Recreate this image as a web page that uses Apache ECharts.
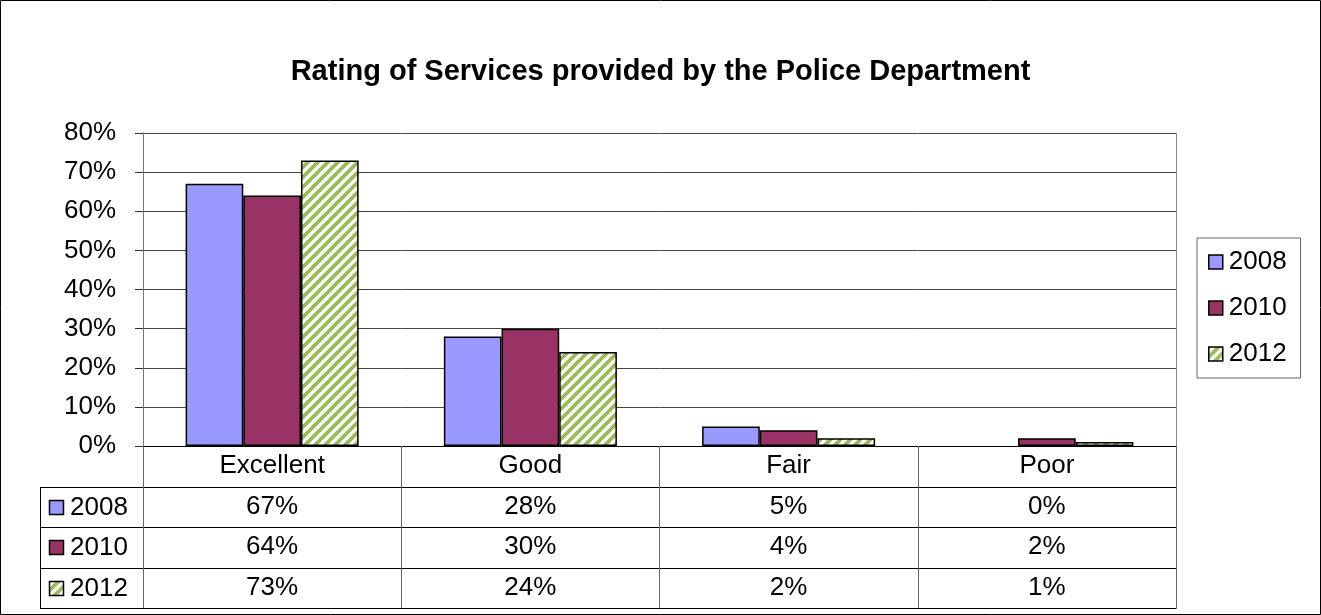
<!DOCTYPE html>
<html>
<head>
<meta charset="utf-8">
<style>
  html, body { margin: 0; padding: 0; background: #fff; }
  #chart { width: 1321px; height: 615px; }
</style>
<script src="https://cdn.jsdelivr.net/npm/echarts@6/dist/echarts.min.js"></script>
</head>
<body>
<div id="chart"></div>
<script>
// Survey data: share of respondents per rating, by survey year
const categories = ['Excellent', 'Good', 'Fair', 'Poor'];
const years = ['2008', '2010', '2012'];
const values2008 = [67, 28, 5, 0];
const values2010 = [64, 30, 4, 2];
const values2012 = [73, 24, 2, 1];
const yTickStep = 10;
const yMax = 80;

const seriesValues = [values2008, values2010, values2012];

// Layout of the plot area and the data table beneath it
const G = { left: 143, right: 1176, top: 133, bottom: 446 };
const ROW_H = 40.5;
const TABLE_LEFT = 40;
const FONT = 'Liberation Sans, Arial, sans-serif';
const TXT = 26;

// Diagonal green stripe fill for 2012
function stripePattern() {
  const s = 10;
  const c = document.createElement('canvas');
  c.width = s; c.height = s;
  const ctx = c.getContext('2d');
  ctx.fillStyle = '#ffffff';
  ctx.fillRect(0, 0, s, s);
  ctx.strokeStyle = '#9bbb59';
  ctx.lineWidth = 3.8;
  ctx.beginPath();
  for (let k = -1; k <= 1; k++) {
    ctx.moveTo(k * s - 1, s + 1);
    ctx.lineTo(k * s + s + 1, -1);
  }
  ctx.stroke();
  return { image: c, repeat: 'repeat' };
}

const fills = ['#9999ff', '#993366', stripePattern()];

const chart = echarts.init(document.getElementById('chart'), null, { renderer: 'canvas' });

// Table text under each category: header + one value per year
function tableLabel(value, idx) {
  const lines = ['{h|' + value + '}'];
  seriesValues.forEach(arr => lines.push('{v|' + arr[idx] + '%}'));
  return lines.join('\n');
}

// Zero-height bars get no outline
const series = years.map((y, i) => ({
  name: y,
  type: 'bar',
  data: seriesValues[i].map(v => v === 0
    ? { value: v, itemStyle: { borderWidth: 0, opacity: 0 } }
    : v),
  barGap: '0%',
  barCategoryGap: '33%',
  itemStyle: { color: fills[i], borderColor: '#000', borderWidth: 1.5 },
  emphasis: { disabled: true },
  animation: false
}));

// Table grid lines and row keys
const graphics = [];
function hline(x1, x2, y, color) {
  graphics.push({ type: 'line', silent: true, shape: { x1, y1: y, x2, y2: y },
    style: { stroke: color || '#000', lineWidth: 1 } });
}
function vline(x, y1, y2, color) {
  graphics.push({ type: 'line', silent: true, shape: { x1: x, y1, x2: x, y2 },
    style: { stroke: color || '#000', lineWidth: 1 } });
}
const rowTops = [G.bottom + ROW_H, G.bottom + 2 * ROW_H, G.bottom + 3 * ROW_H, G.bottom + 4 * ROW_H];
rowTops.forEach(y => hline(TABLE_LEFT, G.right, Math.round(y) + 0.5));
vline(TABLE_LEFT + 0.5, Math.round(rowTops[0]), Math.round(rowTops[3]) + 1);
vline(G.right + 0.5, G.top, Math.round(rowTops[3]) + 1, '#888');
years.forEach((y, i) => {
  const cy = rowTops[i] + ROW_H / 2;
  graphics.push({ type: 'rect', silent: true,
    shape: { x: 49.5, y: Math.round(cy - 7) + 0.5, width: 14, height: 14 },
    style: { fill: fills[i], stroke: '#000', lineWidth: 1.5 } });
  graphics.push({ type: 'text', silent: true, x: 70, y: cy + 1,
    style: { text: y, font: TXT + 'px ' + FONT, fill: '#000', textVerticalAlign: 'middle' } });
});
// Outer frame
graphics.push({ type: 'rect', silent: true,
  shape: { x: 0.5, y: 0.5, width: 1320, height: 614 },
  style: { fill: 'none', stroke: '#000', lineWidth: 1 } });

chart.setOption({
  animation: false,
  backgroundColor: '#fff',
  title: {
    text: 'Rating of Services provided by the Police Department',
    left: 'center',
    top: 52,
    textStyle: { fontFamily: FONT, fontSize: 29, fontWeight: 'bold', color: '#000' }
  },
  legend: {
    orient: 'vertical',
    left: 1197,
    top: 238,
    padding: [11, 14, 11, 11],
    itemGap: 20,
    itemWidth: 14,
    itemHeight: 14,
    borderColor: '#666',
    borderWidth: 1,
    icon: 'rect',
    selectedMode: false,
    textStyle: { fontFamily: FONT, fontSize: TXT, color: '#000', padding: [0, 0, 0, 1] },
    itemStyle: { borderColor: '#000', borderWidth: 1.5 },
    data: years
  },
  grid: { left: G.left, right: 1321 - G.right, top: G.top, bottom: 615 - G.bottom, containLabel: false },
  xAxis: {
    type: 'category',
    data: categories,
    axisLine: { lineStyle: { color: '#000', width: 1 } },
    axisTick: { show: true, length: Math.round(4 * ROW_H), lineStyle: { color: '#666' } },
    axisLabel: {
      margin: 0,
      formatter: tableLabel,
      fontFamily: FONT,
      color: '#000',
      rich: {
        h: { fontSize: TXT, lineHeight: ROW_H, fontFamily: FONT, color: '#000' },
        v: { fontSize: TXT, lineHeight: ROW_H, fontFamily: FONT, color: '#000' }
      }
    }
  },
  yAxis: {
    type: 'value',
    min: 0,
    max: yMax,
    interval: yTickStep,
    axisLine: { show: true, lineStyle: { color: '#777' } },
    axisTick: { show: true, length: 8, lineStyle: { color: '#333' } },
    axisLabel: { formatter: '{value}%', fontFamily: FONT, fontSize: TXT, color: '#000', margin: 27 },
    splitLine: { lineStyle: { color: '#444', width: 1 } }
  },
  series: series,
  graphic: graphics
});
</script>
</body>
</html>
